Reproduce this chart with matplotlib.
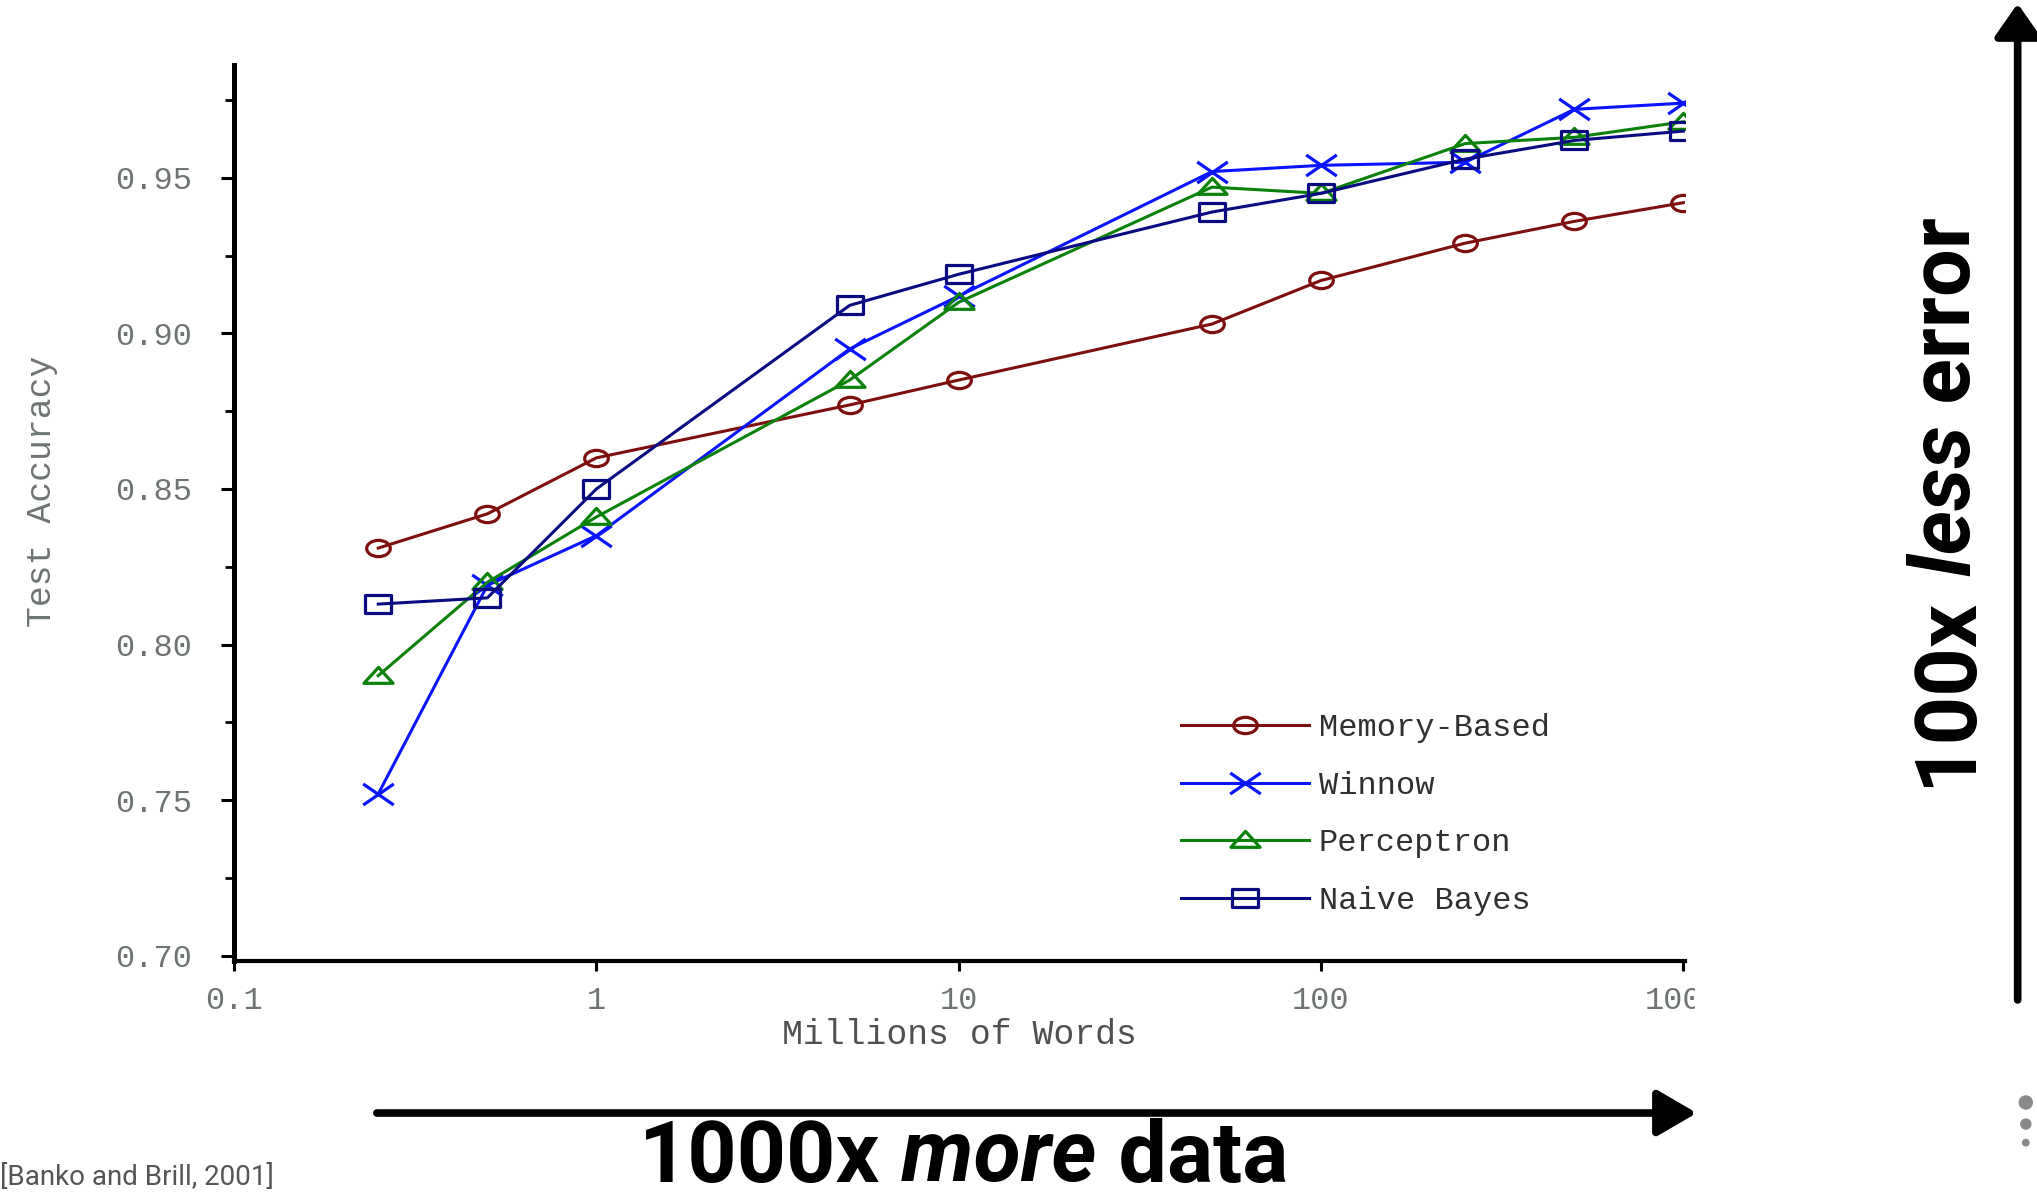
import matplotlib
matplotlib.use("Agg")
from matplotlib import pyplot as plt
from matplotlib.path import Path
from matplotlib.patches import FancyArrowPatch, Ellipse
from matplotlib.ticker import FixedLocator, NullLocator
from matplotlib.transforms import Affine2D, Bbox, TransformedBbox

# millions of words
words = [0.25, 0.5, 1, 5, 10, 50, 100, 250, 500, 1000]

memory_based = [0.831, 0.842, 0.860, 0.877, 0.885, 0.903, 0.917, 0.929, 0.936, 0.942]
winnow = [0.752, 0.819, 0.835, 0.895, 0.912, 0.952, 0.954, 0.955, 0.972, 0.974]
perceptron = [0.790, 0.820, 0.841, 0.885, 0.910, 0.947, 0.945, 0.961, 0.963, 0.968]
naive_bayes = [0.813, 0.815, 0.850, 0.909, 0.919, 0.939, 0.945, 0.956, 0.962, 0.965]

y_ticks = [0.70, 0.75, 0.80, 0.85, 0.90, 0.95]
y_minor = [0.725, 0.775, 0.825, 0.875, 0.925, 0.975]
x_ticks = [0.1, 1, 10, 100, 1000]
x_ticklabels = ["0.1", "1", "10", "100", "1000"]

MONO = "Liberation Mono"
BIG = "Roboto"
GRAY = "#6e7474"

# the original chart was stretched sideways, so markers are wider than tall
squash = Affine2D().scale(1.45, 1.0)
m_circle = squash.transform_path(Path.unit_circle())
m_square = squash.transform_path(Path([(-1, -1), (1, -1), (1, 1), (-1, 1), (-1, -1)],
                                      [1, 2, 2, 2, 79]))
m_tri = Affine2D().scale(1.6, 1.0).transform_path(
    Path([(-1, -0.75), (1, -0.75), (0, 1), (-1, -0.75)], [1, 2, 2, 79]))
m_x = squash.transform_path(Path([(-1, -1), (1, 1), (-1, 1), (1, -1)], [1, 2, 1, 2]))

fig = plt.figure(figsize=(20.37, 11.99), dpi=100)
ax = fig.add_axes([0.1149, 0.1985, 0.7123, 0.7473])

series = [
    ("Memory-Based", memory_based, "#7f0f0f", m_circle, 17),
    ("Winnow", winnow, "#0a14ff", m_x, 22),
    ("Perceptron", perceptron, "#0a820a", m_tri, 21),
    ("Naive Bayes", naive_bayes, "#0a0a82", m_square, 19),
]
for name, vals, col, mk, size in series:
    ax.plot(words, vals, color=col, lw=2.2, marker=mk, ms=size,
            mfc="none", mec=col, mew=2.3, label=name)

ax.set_xscale("log")
ax.set_xlim(0.1, 1010)
ax.set_ylim(0.6983, 0.98625)

ax.xaxis.set_major_locator(FixedLocator(x_ticks))
ax.xaxis.set_minor_locator(NullLocator())
ax.set_xticklabels(x_ticklabels)
ax.set_yticks(y_ticks)
ax.set_yticklabels([f"{v:.2f}" for v in y_ticks])
ax.yaxis.set_minor_locator(FixedLocator(y_minor))

for side in ("top", "right"):
    ax.spines[side].set_visible(False)
ax.spines["left"].set_linewidth(3.6)
ax.spines["bottom"].set_linewidth(3.0)

ax.tick_params(axis="y", which="major", length=9.5, width=2.2, pad=21,
               labelsize=23, labelcolor=GRAY)
ax.tick_params(axis="y", which="minor", length=6.5, width=2.0)
ax.tick_params(axis="x", which="major", length=7, width=2.2, pad=11,
               labelsize=23, labelcolor=GRAY)
for lbl in ax.get_xticklabels() + ax.get_yticklabels():
    lbl.set_family(MONO)

ax.set_xlabel("Millions of Words", family=MONO, fontsize=25, color="#505050")
ax.xaxis.set_label_coords(0.5, -0.064)
ax.set_ylabel("Test Accuracy", family=MONO, fontsize=25, color=GRAY)
ax.yaxis.set_label_coords(-0.121, 0.5246)

leg = ax.legend(loc="upper left", bbox_to_anchor=(0.580, 0.405),
                bbox_transform=fig.transFigure, frameon=False,
                prop={"family": MONO, "size": 23}, handlelength=4.0,
                handletextpad=0.3, labelspacing=0.86, borderpad=0,
                borderaxespad=0)
for t in leg.get_texts():
    t.set_color("#303030")

# the "1000" label is cut off in the original picture
last = ax.xaxis.get_major_ticks()[-1].label1
last.set_clip_box(TransformedBbox(Bbox.from_extents(0, 0, 0.832, 1), fig.transFigure))
last.set_clip_on(True)

# arrows
h_arrow = FancyArrowPatch((0.185, 0.0717), (0.833, 0.0717), transform=fig.transFigure,
                          arrowstyle="-|>,head_length=24,head_width=14",
                          mutation_scale=1, lw=5.5, color="black",
                          shrinkA=0, shrinkB=0)
fig.add_artist(h_arrow)
v_arrow = FancyArrowPatch((0.9905, 0.166), (0.9905, 0.997), transform=fig.transFigure,
                          arrowstyle="-|>,head_length=20,head_width=14",
                          mutation_scale=1, lw=5.5, color="black",
                          shrinkA=0, shrinkB=0)
fig.add_artist(v_arrow)

# big captions
t1 = fig.text(0.3137, 0.0145, "1000x", family=BIG, weight="bold", fontsize=62,
              va="baseline", ha="left")
t2 = fig.add_artist(plt.Annotation(" more", xy=(1, 0), xycoords=t1, family=BIG,
                                   weight="bold", style="italic", fontsize=62,
                                   va="bottom", ha="left"))
fig.add_artist(plt.Annotation(" data", xy=(1, 0), xycoords=t2, family=BIG,
                              weight="bold", fontsize=62, va="bottom", ha="left"))

r1 = fig.text(0.9755, 0.3445, "100x", family=BIG, weight="bold", fontsize=61,
              rotation=90, va="bottom", ha="right")
r2 = fig.add_artist(plt.Annotation(" less", xy=(1, 1), xycoords=r1, family=BIG,
                                   weight="bold", style="italic", fontsize=61,
                                   rotation=90, va="bottom", ha="right"))
fig.add_artist(plt.Annotation(" error", xy=(1, 1), xycoords=r2, family=BIG,
                              weight="bold", fontsize=61, rotation=90,
                              va="bottom", ha="right"))

fig.text(0.0, 0.012, "[Banko and Brill, 2001]", family=BIG, fontsize=20,
         color="#555555", va="baseline", ha="left")

# slide menu dots
for yy, rr in [(0.0805, 6.5), (0.0625, 5.0), (0.047, 3.2)]:
    fig.add_artist(Ellipse((0.9945, yy), 2 * rr / 2037, 2 * rr / 1199,
                           transform=fig.transFigure, color="#8a8a8a"))

fig.savefig("out.png", dpi=100)
